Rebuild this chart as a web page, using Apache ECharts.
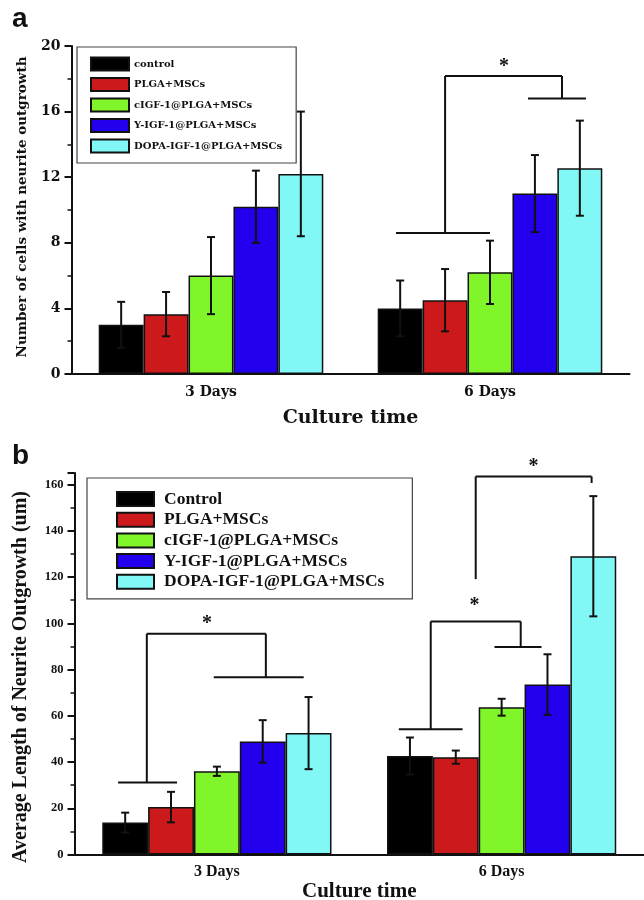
<!DOCTYPE html>
<html>
<head>
<meta charset="utf-8">
<script src="https://cdn.jsdelivr.net/npm/echarts@6/dist/echarts.min.js"></script>
<style>
  html, body { margin: 0; padding: 0; background: #fff; }
  #chart { width: 644px; height: 900px; }
</style>
</head>
<body>
<div id="chart"></div>
<script>
// categories
var groups = ['3 Days', '6 Days'];
var namesA = ['control', 'PLGA+MSCs', 'cIGF-1@PLGA+MSCs', 'Y-IGF-1@PLGA+MSCs', 'DOPA-IGF-1@PLGA+MSCs'];
var namesB = ['Control', 'PLGA+MSCs', 'cIGF-1@PLGA+MSCs', 'Y-IGF-1@PLGA+MSCs', 'DOPA-IGF-1@PLGA+MSCs'];
var colors = ['#000000', '#cc1a1c', '#80f52a', '#2200ee', '#82f8f6'];

// panel a: number of cells with neurite outgrowth (mean, sd) per group [3 days, 6 days]
var cellMean = [[3.0, 4.0], [3.65, 4.5], [6.0, 6.2], [10.2, 11.0], [12.2, 12.55]];
var cellErr = [[1.4, 1.7], [1.35, 1.9], [2.35, 1.93], [2.2, 2.35], [3.8, 2.9]];

// panel b: average neurite length (um)
var lenMean = [[13.8, 42.6], [20.5, 42.1], [36.0, 63.7], [48.9, 73.5], [52.5, 129.0]];
var lenErr = [[4.3, 8.0], [6.6, 2.85], [2.0, 3.65], [9.2, 13.1], [15.6, 26.0]];

// significance brackets: segments [x1, y1, x2, y2] on a 0..2 span (category centres at 0.5 and 1.5)
var bracketA = [
  [1.163, 8.6, 1.5, 8.6],
  [1.339, 8.6, 1.339, 18.17],
  [1.339, 18.17, 1.758, 18.17],
  [1.758, 18.17, 1.758, 16.8],
  [1.636, 16.8, 1.844, 16.8]
];
var starA = [[1.55, 19.0]];

var bracketB = [
  [0.153, 31.1, 0.36, 31.1],
  [0.254, 31.1, 0.254, 95.5],
  [0.254, 95.5, 0.672, 95.5],
  [0.672, 95.5, 0.672, 76.7],
  [0.489, 76.7, 0.805, 76.7],
  [1.139, 54.2, 1.363, 54.2],
  [1.251, 54.2, 1.251, 100.8],
  [1.251, 100.8, 1.567, 100.8],
  [1.567, 100.8, 1.567, 89.7],
  [1.475, 89.7, 1.64, 89.7],
  [1.409, 119.1, 1.409, 163.5],
  [1.409, 163.5, 1.816, 163.5],
  [1.816, 163.5, 1.816, 160.7]
];
var starB = [[0.465, 101.5], [1.405, 109.4], [1.612, 169.6]];

var CAT_GAP = 0.195;

var chart = echarts.init(document.getElementById('chart'), null, { renderer: 'canvas' });

function barSeries(names, means, xi, yi) {
  return names.map(function (n, k) {
    return {
      name: n,
      type: 'bar',
      xAxisIndex: xi,
      yAxisIndex: yi,
      data: means[k],
      barGap: '0%',
      barCategoryGap: (CAT_GAP * 100) + '%',
      itemStyle: { color: colors[k], borderColor: '#111', borderWidth: 1.5 },
      z: 2
    };
  });
}

function errRows(means, errs) {
  var rows = [];
  for (var k = 0; k < means.length; k++) {
    for (var c = 0; c < groups.length; c++) {
      rows.push([c, k, means[k][c], errs[k][c]]);
    }
  }
  return rows;
}

function errorSeries(means, errs, xi, yi) {
  return {
    type: 'custom',
    xAxisIndex: xi,
    yAxisIndex: yi,
    data: errRows(means, errs),
    encode: { x: 0, y: 2 },
    silent: true,
    z: 5,
    renderItem: function (params, api) {
      var band = api.size([1, 0])[0];
      var bw = band * (1 - CAT_GAP) / means.length;
      var cx = api.coord([api.value(0), 0])[0] + (api.value(1) - (means.length - 1) / 2) * bw;
      var m = api.value(2), e = api.value(3);
      var yt = api.coord([api.value(0), m + e])[1];
      var yb = api.coord([api.value(0), m - e])[1];
      var st = { stroke: '#111', lineWidth: 2 };
      return {
        type: 'group',
        children: [
          { type: 'line', shape: { x1: cx, y1: yt, x2: cx, y2: yb }, style: st },
          { type: 'line', shape: { x1: cx - 4, y1: yt, x2: cx + 4, y2: yt }, style: st },
          { type: 'line', shape: { x1: cx - 4, y1: yb, x2: cx + 4, y2: yb }, style: st }
        ]
      };
    }
  };
}

function bracketSeries(segs, xi, yi) {
  return {
    type: 'custom',
    xAxisIndex: xi,
    yAxisIndex: yi,
    data: segs,
    encode: { x: [0, 2], y: [1, 3] },
    silent: true,
    clip: false,
    z: 6,
    renderItem: function (params, api) {
      var p1 = api.coord([api.value(0), api.value(1)]);
      var p2 = api.coord([api.value(2), api.value(3)]);
      return {
        type: 'line',
        shape: { x1: p1[0], y1: p1[1], x2: p2[0], y2: p2[1] },
        style: { stroke: '#111', lineWidth: 2 }
      };
    }
  };
}

function starSeries(pts, xi, yi) {
  return {
    type: 'custom',
    xAxisIndex: xi,
    yAxisIndex: yi,
    data: pts,
    encode: { x: 0, y: 1 },
    silent: true,
    clip: false,
    z: 6,
    renderItem: function (params, api) {
      var p = api.coord([api.value(0), api.value(1)]);
      return {
        type: 'text',
        x: p[0],
        y: p[1] + 4,
        style: {
          text: '*',
          font: 'bold 20px "Liberation Serif"',
          fill: '#111',
          align: 'center',
          verticalAlign: 'middle'
        }
      };
    }
  };
}

var fontA = '"DejaVu Serif"';
var fontB = '"Liberation Serif"';
var axisLineStyle = { color: '#111', width: 2 };

var option = {
  animation: false,
  backgroundColor: '#ffffff',
  grid: [
    { left: 71.5, right: 14.5, top: 46, bottom: 526, outerBoundsMode: 'none' },
    { left: 74.5, right: 0, top: 473, bottom: 45.5, outerBoundsMode: 'none' }
  ],
  xAxis: [
    {
      type: 'category', gridIndex: 0, data: groups,
      axisLine: { lineStyle: axisLineStyle },
      axisTick: { show: false },
      axisLabel: { color: '#111', fontFamily: fontA, fontWeight: 'bold', fontSize: 14, margin: 11 },
      name: 'Culture time', nameLocation: 'middle', nameGap: 35,
      nameTextStyle: { color: '#111', fontFamily: fontA, fontWeight: 'bold', fontSize: 19 }
    },
    {
      type: 'category', gridIndex: 1, data: groups,
      axisLine: { lineStyle: axisLineStyle },
      axisTick: { show: false },
      axisLabel: { color: '#111', fontFamily: fontB, fontWeight: 'bold', fontSize: 16, margin: 9 },
      name: 'Culture time', nameLocation: 'middle', nameGap: 27,
      nameTextStyle: { color: '#111', fontFamily: fontB, fontWeight: 'bold', fontSize: 21 }
    },
    { type: 'value', gridIndex: 0, min: 0, max: 2, show: false },
    { type: 'value', gridIndex: 1, min: 0, max: 2, show: false }
  ],
  yAxis: [
    {
      type: 'value', gridIndex: 0, min: 0, max: 20, interval: 4,
      axisLine: { show: true, lineStyle: axisLineStyle },
      axisTick: { show: true, length: 7, lineStyle: { color: '#111', width: 2 } },
      minorTick: { show: true, splitNumber: 2, length: 4, lineStyle: { color: '#111', width: 1.5 } },
      splitLine: { show: false },
      axisLabel: { color: '#111', fontFamily: fontA, fontWeight: 'bold', fontSize: 14, margin: 11 }
    },
    {
      type: 'value', gridIndex: 1, min: 0, max: 165, interval: 20,
      axisLine: { show: true, lineStyle: axisLineStyle },
      axisTick: { show: true, length: 7, lineStyle: { color: '#111', width: 2 } },
      minorTick: { show: true, splitNumber: 2, length: 4, lineStyle: { color: '#111', width: 1.5 } },
      splitLine: { show: false },
      axisLabel: { color: '#111', fontFamily: fontB, fontWeight: 'bold', fontSize: 12.5, margin: 11, showMaxLabel: false }
    }
  ],
  legend: [
    {
      data: namesA, orient: 'vertical', left: 77, top: 47,
      padding: [9.5, 14, 9.5, 13], itemGap: 5.5, itemWidth: 38, itemHeight: 13,
      borderColor: '#444', borderWidth: 1.2, icon: 'rect',
      textStyle: { color: '#111', fontFamily: fontA, fontWeight: 'bold', fontSize: 10 }
    },
    {
      data: namesB, orient: 'vertical', left: 87, top: 478,
      padding: [12, 28, 8, 29], itemGap: 2.7, itemWidth: 37, itemHeight: 14,
      borderColor: '#444', borderWidth: 1.2, icon: 'rect',
      textStyle: { color: '#111', fontFamily: fontB, fontWeight: 'bold', fontSize: 17.5, lineHeight: 14, padding: [0, 0, 0, 5] }
    }
  ],
  graphic: [
    { type: 'text', x: 12, y: 19, style: { text: 'a', font: 'bold 28px "Liberation Sans"', fill: '#111', verticalAlign: 'middle' } },
    { type: 'text', x: 12, y: 456, style: { text: 'b', font: 'bold 28px "Liberation Sans"', fill: '#111', verticalAlign: 'middle' } },
    { type: 'text', x: 22, y: 207, rotation: Math.PI / 2,
      style: { text: 'Number of cells with neurite outgrowth', font: 'bold 13.5px "DejaVu Serif"', fill: '#111', align: 'center', verticalAlign: 'middle' } },
    { type: 'text', x: 21, y: 677, rotation: Math.PI / 2,
      style: { text: 'Average Length of Neurite Outgrowth (um)', font: 'bold 20px "Liberation Serif"', fill: '#111', align: 'center', verticalAlign: 'middle' } }
  ],
  series: [].concat(
    barSeries(namesA, cellMean, 0, 0),
    [errorSeries(cellMean, cellErr, 0, 0), bracketSeries(bracketA, 2, 0), starSeries(starA, 2, 0)],
    barSeries(namesB, lenMean, 1, 1),
    [errorSeries(lenMean, lenErr, 1, 1), bracketSeries(bracketB, 3, 1), starSeries(starB, 3, 1)]
  )
};

chart.setOption(option);
</script>
</body>
</html>
